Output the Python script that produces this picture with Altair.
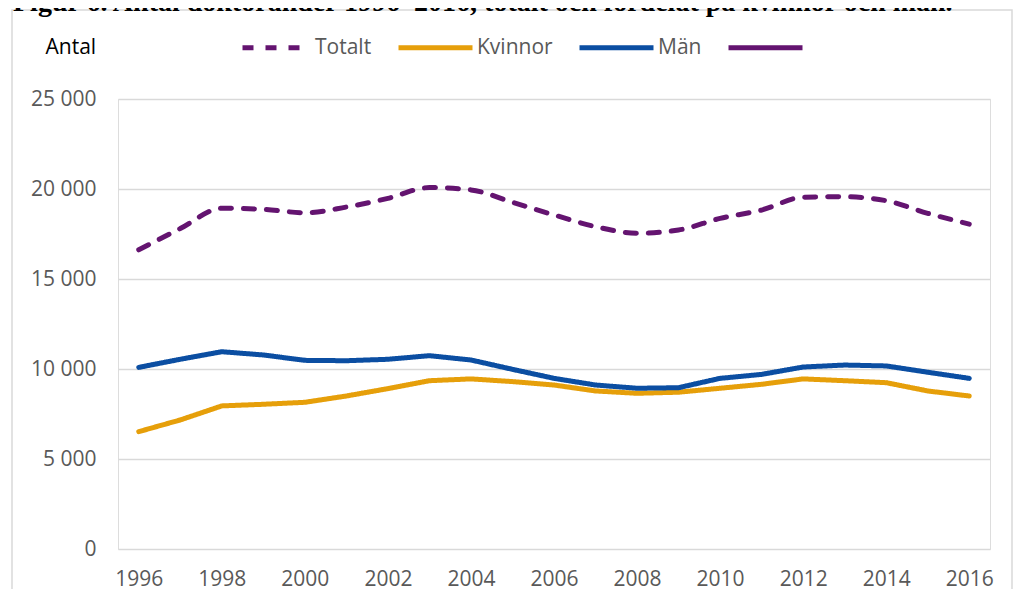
import altair as alt
import pandas as pd

years = list(range(1996, 2017))
totalt = [16620, 17800, 18930, 18870, 18680, 19000, 19480, 20080, 19950, 19260,
          18560, 17910, 17540, 17720, 18370, 18830, 19540, 19570, 19350, 18650, 18050]
kvinnor = [6520, 7170, 7950, 8040, 8150, 8500, 8910, 9350, 9450, 9300,
           9110, 8780, 8650, 8710, 8930, 9150, 9450, 9350, 9240, 8780, 8500]
man = [10090, 10540, 10960, 10780, 10480, 10460, 10540, 10740, 10500, 9980,
       9480, 9110, 8930, 8960, 9480, 9700, 10110, 10220, 10170, 9820, 9480]

series_names = ["Totalt", "Kvinnor", "Män", " "]
series_colors = ["#641470", "#E69F0A", "#0B4EA2", "#641470"]
series_dash = [[11, 12], [1, 0], [1, 0], [1, 0]]
x_ticks = list(range(1996, 2017, 2))
y_ticks = [0, 5000, 10000, 15000, 20000, 25000]
title_text = "Figur 6. Antal doktorander 1996–2016, totalt och fördelat på kvinnor och män."

FONT = "Open Sans"

df_tot = pd.DataFrame({"år": years, "antal": totalt, "serie": "Totalt"})
df_km = pd.concat([
    pd.DataFrame({"år": years, "antal": kvinnor, "serie": "Kvinnor"}),
    pd.DataFrame({"år": years, "antal": man, "serie": "Män"}),
])

x_enc = alt.X("år:Q",
              scale=alt.Scale(domain=[1995.5, 2016.5], nice=False, zero=False),
              axis=alt.Axis(values=x_ticks, format="d", title=None, grid=False,
                            domain=False, ticks=False, labelFont=FONT,
                            labelFontSize=21, labelColor="#595959",
                            labelPadding=19))
y_enc = alt.Y("antal:Q",
              scale=alt.Scale(domain=[0, 25000], nice=False),
              axis=alt.Axis(values=y_ticks,
                            labelExpr="replace(format(datum.value, ','), ',', ' ')",
                            title="Antal", titleAngle=0, titleAlign="left",
                            titleBaseline="alphabetic", titleX=-73, titleY=-46,
                            titleFont=FONT, titleFontSize=21,
                            titleFontWeight="normal", titleColor="#000000",
                            grid=True, gridColor="#D9D9D9", gridWidth=1.5,
                            domain=False, ticks=False, labelFont=FONT,
                            labelFontSize=21, labelColor="#595959",
                            labelPadding=22))

legend_opts = dict(orient="none", legendX=116, legendY=-91,
                   direction="horizontal", title=None,
                   symbolType="stroke", symbolSize=5476,
                   symbolStrokeWidth=5, symbolDashOffset=17,
                   labelFont=FONT, labelFontSize=21,
                   labelColor="#595959", labelOffset=2,
                   columnPadding=16, padding=0, labelLimit=400)

color_enc = alt.Color("serie:N",
                      scale=alt.Scale(domain=series_names, range=series_colors),
                      legend=alt.Legend(**legend_opts))
dash_enc = alt.StrokeDash("serie:N",
                          scale=alt.Scale(domain=series_names, range=series_dash),
                          legend=alt.Legend(**legend_opts))

line_tot = alt.Chart(df_tot).mark_line(
    strokeWidth=5, strokeCap="round", strokeJoin="round", interpolate="monotone"
).encode(x=x_enc, y=y_enc, color=color_enc, strokeDash=dash_enc)

line_km = alt.Chart(df_km).mark_line(
    strokeWidth=5, strokeCap="round", strokeJoin="round"
).encode(x=x_enc, y=y_enc, color=color_enc, strokeDash=dash_enc)

frame = alt.Chart(pd.DataFrame({"f": [1]})).mark_rect(
    filled=False, stroke="#D9D9D9", strokeWidth=1.5
).encode(x=alt.value(-106), x2=alt.value(894), y=alt.value(-89), y2=alt.value(560))

title = alt.Chart(pd.DataFrame({"t": [title_text]})).mark_text(
    align="left", baseline="alphabetic", font="Liberation Serif",
    fontWeight="bold", fontSize=28, color="#000000"
).encode(text="t:N", x=alt.value(-105), y=alt.value(-88))

chart = alt.layer(frame, title, line_km, line_tot).properties(
    width=872, height=450,
    autosize=alt.AutoSizeParams(type="none"),
    padding={"left": 110, "top": 91, "right": 23, "bottom": 40},
).configure_view(stroke=None).configure(background="#FFFFFF")

chart.save("out.html", embed_options={"renderer": "svg", "actions": False})
